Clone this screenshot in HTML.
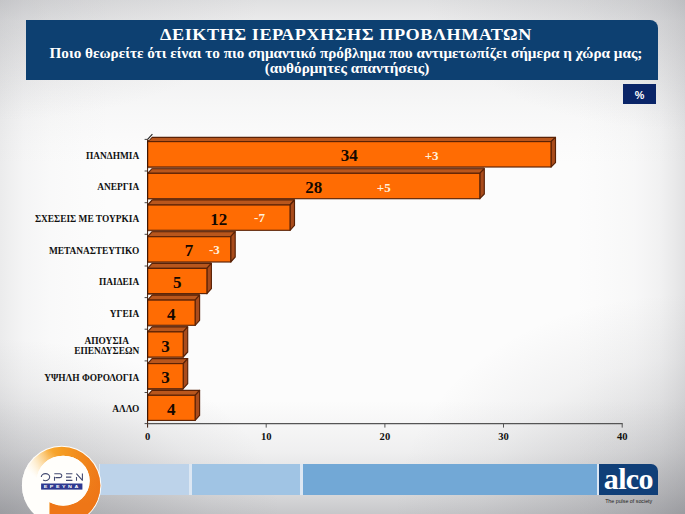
<!DOCTYPE html>
<html lang="el">
<head>
<meta charset="utf-8">
<title>ΔΕΙΚΤΗΣ ΙΕΡΑΡΧΗΣΗΣ ΠΡΟΒΛΗΜΑΤΩΝ</title>
<style>
html,body{margin:0;padding:0;}
body{width:685px;height:514px;overflow:hidden;position:relative;font-family:"Liberation Serif",serif;font-weight:bold;
 background:
  radial-gradient(ellipse 260px 120px at 0% 0%, rgba(150,151,156,0.24) 0%, rgba(150,151,156,0.11) 50%, rgba(150,151,156,0) 100%),
  radial-gradient(ellipse 260px 130px at 100% 0%, rgba(150,151,156,0.28) 0%, rgba(150,151,156,0.13) 50%, rgba(150,151,156,0) 100%),
  radial-gradient(ellipse 280px 175px at 0% 100%, rgba(118,119,125,0.46) 0%, rgba(118,119,125,0.25) 38%, rgba(118,119,125,0.07) 75%, rgba(118,119,125,0) 100%),
  radial-gradient(ellipse 290px 220px at 100% 100%, rgba(112,113,119,0.40) 0%, rgba(112,113,119,0.22) 35%, rgba(112,113,119,0.07) 70%, rgba(112,113,119,0) 100%),
  linear-gradient(to bottom, rgba(125,126,132,0) 0%, rgba(125,126,132,0) 78%, rgba(125,126,132,0.10) 88%, rgba(125,126,132,0.28) 96%, rgba(125,126,132,0.42) 100%),
  linear-gradient(to bottom, rgba(150,151,156,0.28) 0%, rgba(150,151,156,0.17) 4%, rgba(150,151,156,0.085) 16%, rgba(150,151,156,0.045) 22%, rgba(150,151,156,0.015) 27%, rgba(150,151,156,0) 32%),
  linear-gradient(to right, rgba(150,151,156,0.17) 0%, rgba(150,151,156,0.125) 1.5%, rgba(150,151,156,0.07) 3.6%, rgba(150,151,156,0.03) 7.3%, rgba(150,151,156,0.01) 11.7%, rgba(150,151,156,0) 16%, rgba(150,151,156,0) 84%, rgba(150,151,156,0.015) 88%, rgba(150,151,156,0.045) 92.7%, rgba(150,151,156,0.11) 96.4%, rgba(150,151,156,0.19) 98.5%, rgba(150,151,156,0.26) 100%),
  #fcfcfc;}
.abs{position:absolute;}
#hdr{left:26px;top:19.5px;width:632px;height:60px;background:#0d4071;border-top-right-radius:8px;color:#fff;text-align:center;}
#t1{left:0;width:640px;top:6.3px;font-size:17.2px;line-height:17px;white-space:nowrap;letter-spacing:0.48px;transform:scaleX(1.06);transform-origin:320px 0;}
#t2{left:0;width:640px;top:25px;font-size:15.2px;line-height:15px;white-space:nowrap;}
#t3{left:0;width:642px;top:40.2px;font-size:15.2px;line-height:15px;white-space:nowrap;}
#pct{left:623.1px;top:84.1px;width:32.8px;height:19.8px;background:#0a2568;color:#fff;font-family:"Liberation Sans",sans-serif;font-size:10.8px;line-height:22.4px;text-align:center;}
.cat{right:545.8px;font-size:9.4px;line-height:10.6px;color:#111;text-align:center;white-space:nowrap;}
.val{font-size:17px;line-height:18px;color:#140800;text-align:center;width:40px;margin-left:-20px;}
.chg{font-size:13px;line-height:14px;color:#fff1dd;text-align:center;width:30px;margin-left:-15px;}
.ax{font-size:10.6px;line-height:12px;color:#111;text-align:center;width:30px;margin-left:-15px;top:431px;}
#bandbg{left:99px;top:464px;width:499.7px;height:31.3px;background:#dce7f3;}
#band1{left:100px;top:464px;width:89.3px;height:31.3px;background:#bdd3ea;}
#band2{left:192.3px;top:464px;width:108px;height:31.3px;background:#a0c4e4;}
#band3{left:303px;top:464px;width:293.5px;height:31.3px;background:#72a8d6;}
#alco{left:599px;top:464px;width:59px;height:31px;background:#103f78;border-top-right-radius:7px;color:#fff;}
#alcot{left:-0.2px;top:-0.9px;width:59px;text-align:center;font-size:30px;line-height:31px;letter-spacing:-0.65px;}
#pulse{left:599.7px;top:498.1px;width:58px;text-align:center;font-family:"Liberation Sans",sans-serif;font-weight:normal;font-size:5.3px;line-height:7px;color:#222;white-space:nowrap;}
</style>
</head>
<body>
<div id="hdr" class="abs">
 <div id="t1" class="abs">ΔΕΙΚΤΗΣ ΙΕΡΑΡΧΗΣΗΣ ΠΡΟΒΛΗΜΑΤΩΝ</div>
 <div id="t2" class="abs">Ποιο θεωρείτε ότι είναι το πιο σημαντικό πρόβλημα που αντιμετωπίζει σήμερα η χώρα μας;</div>
 <div id="t3" class="abs">(αυθόρμητες απαντήσεις)</div>
</div>
<div id="pct" class="abs">%</div>

<svg class="abs" style="left:0;top:0" width="685" height="514" viewBox="0 0 685 514">
<polygon points="147.6,136.9 152.6,136.9 147.6,141.6" fill="#fff"/>
<polygon points="147.6,141.6 152.1,137.3 555.5,137.3 551.0,141.6" fill="#b9561c" stroke="#5a2206" stroke-width="1.15" stroke-linejoin="round"/>
<polygon points="551.0,141.6 555.5,137.3 555.5,162.7 551.0,167.0" fill="#a94c1c" stroke="#5a2206" stroke-width="1.15" stroke-linejoin="round"/>
<rect x="147.6" y="141.6" width="403.4" height="25.4" fill="#ff6c03" stroke="#5a2206" stroke-width="1.15"/>
<line x1="147.6" y1="167.9" x2="484.3" y2="167.9" stroke="#7d3a14" stroke-width="1.3"/>
<line x1="144.6" y1="139.4" x2="147.6" y2="139.4" stroke="#333" stroke-width="0.9"/>
<polygon points="147.6,168.3 152.6,168.3 147.6,173.3" fill="#fff"/>
<polygon points="147.6,173.3 152.1,168.7 484.3,168.7 479.8,173.3" fill="#b9561c" stroke="#5a2206" stroke-width="1.15" stroke-linejoin="round"/>
<polygon points="479.8,173.3 484.3,168.7 484.3,194.0 479.8,198.7" fill="#a94c1c" stroke="#5a2206" stroke-width="1.15" stroke-linejoin="round"/>
<rect x="147.6" y="173.3" width="332.2" height="25.4" fill="#ff6c03" stroke="#5a2206" stroke-width="1.15"/>
<line x1="147.6" y1="199.6" x2="294.5" y2="199.6" stroke="#7d3a14" stroke-width="1.3"/>
<line x1="144.6" y1="171.0" x2="147.6" y2="171.0" stroke="#333" stroke-width="0.9"/>
<polygon points="147.6,199.6 152.6,199.6 147.6,205.0" fill="#fff"/>
<polygon points="147.6,205.0 152.1,200.0 294.5,200.0 290.0,205.0" fill="#b9561c" stroke="#5a2206" stroke-width="1.15" stroke-linejoin="round"/>
<polygon points="290.0,205.0 294.5,200.0 294.5,225.3 290.0,230.3" fill="#a94c1c" stroke="#5a2206" stroke-width="1.15" stroke-linejoin="round"/>
<rect x="147.6" y="205.0" width="142.4" height="25.3" fill="#ff6c03" stroke="#5a2206" stroke-width="1.15"/>
<line x1="147.6" y1="231.2" x2="235.2" y2="231.2" stroke="#7d3a14" stroke-width="1.3"/>
<line x1="144.6" y1="202.7" x2="147.6" y2="202.7" stroke="#333" stroke-width="0.9"/>
<polygon points="147.6,231.3 152.6,231.3 147.6,236.7" fill="#fff"/>
<polygon points="147.6,236.7 152.1,231.7 235.2,231.7 230.7,236.7" fill="#b9561c" stroke="#5a2206" stroke-width="1.15" stroke-linejoin="round"/>
<polygon points="230.7,236.7 235.2,231.7 235.2,257.0 230.7,262.0" fill="#a94c1c" stroke="#5a2206" stroke-width="1.15" stroke-linejoin="round"/>
<rect x="147.6" y="236.7" width="83.1" height="25.3" fill="#ff6c03" stroke="#5a2206" stroke-width="1.15"/>
<line x1="147.6" y1="262.9" x2="211.4" y2="262.9" stroke="#7d3a14" stroke-width="1.3"/>
<line x1="144.6" y1="234.3" x2="147.6" y2="234.3" stroke="#333" stroke-width="0.9"/>
<polygon points="147.6,263.0 152.6,263.0 147.6,268.4" fill="#fff"/>
<polygon points="147.6,268.4 152.1,263.4 211.4,263.4 206.9,268.4" fill="#b9561c" stroke="#5a2206" stroke-width="1.15" stroke-linejoin="round"/>
<polygon points="206.9,268.4 211.4,263.4 211.4,288.7 206.9,293.7" fill="#a94c1c" stroke="#5a2206" stroke-width="1.15" stroke-linejoin="round"/>
<rect x="147.6" y="268.4" width="59.3" height="25.2" fill="#ff6c03" stroke="#5a2206" stroke-width="1.15"/>
<line x1="147.6" y1="294.6" x2="199.6" y2="294.6" stroke="#7d3a14" stroke-width="1.3"/>
<line x1="144.6" y1="266.0" x2="147.6" y2="266.0" stroke="#333" stroke-width="0.9"/>
<polygon points="147.6,294.8 152.6,294.8 147.6,300.1" fill="#fff"/>
<polygon points="147.6,300.1 152.1,295.1 199.6,295.1 195.1,300.1" fill="#b9561c" stroke="#5a2206" stroke-width="1.15" stroke-linejoin="round"/>
<polygon points="195.1,300.1 199.6,295.1 199.6,320.3 195.1,325.3" fill="#a94c1c" stroke="#5a2206" stroke-width="1.15" stroke-linejoin="round"/>
<rect x="147.6" y="300.1" width="47.5" height="25.2" fill="#ff6c03" stroke="#5a2206" stroke-width="1.15"/>
<line x1="147.6" y1="326.2" x2="187.7" y2="326.2" stroke="#7d3a14" stroke-width="1.3"/>
<line x1="144.6" y1="297.6" x2="147.6" y2="297.6" stroke="#333" stroke-width="0.9"/>
<polygon points="147.6,326.5 152.6,326.5 147.6,331.9" fill="#fff"/>
<polygon points="147.6,331.9 152.1,326.9 187.7,326.9 183.2,331.9" fill="#b9561c" stroke="#5a2206" stroke-width="1.15" stroke-linejoin="round"/>
<polygon points="183.2,331.9 187.7,326.9 187.7,352.0 183.2,357.0" fill="#a94c1c" stroke="#5a2206" stroke-width="1.15" stroke-linejoin="round"/>
<rect x="147.6" y="331.9" width="35.6" height="25.2" fill="#ff6c03" stroke="#5a2206" stroke-width="1.15"/>
<line x1="147.6" y1="357.9" x2="183.2" y2="357.9" stroke="#7d3a14" stroke-width="1.3"/>
<line x1="144.6" y1="329.2" x2="147.6" y2="329.2" stroke="#333" stroke-width="0.9"/>
<polygon points="147.6,358.2 152.6,358.2 147.6,363.6" fill="#fff"/>
<polygon points="147.6,363.6 152.1,358.6 187.7,358.6 183.2,363.6" fill="#b9561c" stroke="#5a2206" stroke-width="1.15" stroke-linejoin="round"/>
<polygon points="183.2,363.6 187.7,358.6 187.7,383.7 183.2,388.7" fill="#a94c1c" stroke="#5a2206" stroke-width="1.15" stroke-linejoin="round"/>
<rect x="147.6" y="363.6" width="35.6" height="25.1" fill="#ff6c03" stroke="#5a2206" stroke-width="1.15"/>
<line x1="147.6" y1="389.6" x2="183.2" y2="389.6" stroke="#7d3a14" stroke-width="1.3"/>
<line x1="144.6" y1="360.9" x2="147.6" y2="360.9" stroke="#333" stroke-width="0.9"/>
<polygon points="147.6,389.9 152.6,389.9 147.6,395.3" fill="#fff"/>
<polygon points="147.6,395.3 152.1,390.3 199.6,390.3 195.1,395.3" fill="#b9561c" stroke="#5a2206" stroke-width="1.15" stroke-linejoin="round"/>
<polygon points="195.1,395.3 199.6,390.3 199.6,415.4 195.1,420.4" fill="#a94c1c" stroke="#5a2206" stroke-width="1.15" stroke-linejoin="round"/>
<rect x="147.6" y="395.3" width="47.5" height="25.1" fill="#ff6c03" stroke="#5a2206" stroke-width="1.15"/>
<line x1="144.6" y1="392.5" x2="147.6" y2="392.5" stroke="#333" stroke-width="0.9"/>
<line x1="148.5" y1="140.0" x2="153.0" y2="134.8" stroke="#fff" stroke-width="1"/>
<line x1="147.6" y1="139.4" x2="152.4" y2="134.1" stroke="#222" stroke-width="1.1"/>
<line x1="144.6" y1="423.6" x2="147.6" y2="423.6" stroke="#333" stroke-width="0.9"/>
<line x1="147.6" y1="139.4" x2="147.6" y2="427.6" stroke="#3a1604" stroke-width="1"/>
<line x1="147.6" y1="423.6" x2="622.7" y2="423.6" stroke="#555" stroke-width="1.4"/>
<line x1="266.2" y1="423.6" x2="266.2" y2="427.6" stroke="#555" stroke-width="1"/>
<line x1="384.9" y1="423.6" x2="384.9" y2="427.6" stroke="#555" stroke-width="1"/>
<line x1="503.5" y1="423.6" x2="503.5" y2="427.6" stroke="#555" stroke-width="1"/>
<line x1="622.2" y1="423.6" x2="622.2" y2="427.6" stroke="#555" stroke-width="1"/>
</svg>

<div class="abs cat" style="top:150.5px">ΠΑΝΔΗΜΙΑ</div>
<div class="abs val" style="left:349.3px;top:147.3px">34</div>
<div class="abs chg" style="left:431.6px;top:149.3px">+3</div>
<div class="abs cat" style="top:182.2px">ΑΝΕΡΓΙΑ</div>
<div class="abs val" style="left:313.7px;top:179.0px">28</div>
<div class="abs chg" style="left:383.7px;top:181.0px">+5</div>
<div class="abs cat" style="top:213.9px">ΣΧΕΣΕΙΣ ΜΕ ΤΟΥΡΚΙΑ</div>
<div class="abs val" style="left:218.8px;top:210.7px">12</div>
<div class="abs chg" style="left:259.5px;top:211.2px">-7</div>
<div class="abs cat" style="top:245.6px">ΜΕΤΑΝΑΣΤΕΥΤΙΚΟ</div>
<div class="abs val" style="left:189.1px;top:242.4px">7</div>
<div class="abs chg" style="left:214.4px;top:243.1px">-3</div>
<div class="abs cat" style="top:277.3px">ΠΑΙΔΕΙΑ</div>
<div class="abs val" style="left:177.3px;top:274.1px">5</div>
<div class="abs cat" style="top:309.1px">ΥΓΕΙΑ</div>
<div class="abs val" style="left:171.3px;top:305.9px">4</div>
<div class="abs cat" style="top:335.5px">ΑΠΟΥΣΙΑ<br>ΕΠΕΝΔΥΣΕΩΝ</div>
<div class="abs val" style="left:165.4px;top:337.6px">3</div>
<div class="abs cat" style="top:372.5px">ΥΨΗΛΗ ΦΟΡΟΛΟΓΙΑ</div>
<div class="abs val" style="left:165.4px;top:369.3px">3</div>
<div class="abs cat" style="top:404.2px">ΑΛΛΟ</div>
<div class="abs val" style="left:171.3px;top:401.0px">4</div>
<div class="abs ax" style="left:147.6px">0</div>
<div class="abs ax" style="left:266.2px">10</div>
<div class="abs ax" style="left:384.9px">20</div>
<div class="abs ax" style="left:503.5px">30</div>
<div class="abs ax" style="left:622.2px">40</div>

<div id="bandbg" class="abs"></div><div id="band1" class="abs"></div><div id="band2" class="abs"></div><div id="band3" class="abs"></div>
<svg class="abs" style="left:0;top:430px" width="130" height="84" viewBox="0 430 130 84">
 <defs>
  <linearGradient id="rg" gradientUnits="userSpaceOnUse" x1="22" y1="0" x2="101" y2="0">
   <stop offset="0" stop-color="#fff4dd"/><stop offset="0.12" stop-color="#fde0a8"/><stop offset="0.22" stop-color="#fac469"/><stop offset="0.33" stop-color="#f8ab36"/><stop offset="0.5" stop-color="#f59c22"/><stop offset="0.8" stop-color="#f0851c"/><stop offset="1" stop-color="#ee7718"/>
  </linearGradient>
  <linearGradient id="rg2" gradientUnits="userSpaceOnUse" x1="0" y1="468" x2="0" y2="503">
   <stop offset="0" stop-color="#ee7617" stop-opacity="0"/><stop offset="1" stop-color="#ee7617" stop-opacity="1"/>
  </linearGradient>
  <linearGradient id="fade" gradientUnits="userSpaceOnUse" x1="50" y1="449" x2="30" y2="473">
   <stop offset="0" stop-color="#fffefb" stop-opacity="0"/><stop offset="0.5" stop-color="#fffefb" stop-opacity="0.5"/><stop offset="1" stop-color="#fffefb" stop-opacity="1"/>
  </linearGradient>
  <clipPath id="cA"><path d="M0 430 H130 V514 H0 Z"/></clipPath>
  <clipPath id="cB"><path d="M49.5 468 H130 V514 H49.5 Z"/></clipPath>
  <clipPath id="cL"><path d="M0 430 H130 V514 H49.5 V492 H0 Z"/></clipPath>
  <clipPath id="cD"><circle cx="61.65" cy="485.5" r="39.7"/></clipPath>
 </defs>
 <circle cx="61.65" cy="485.5" r="39.7" fill="#fffefb"/>
 <g clip-path="url(#cL)">
  <path clip-path="url(#cA)" fill-rule="evenodd" fill="url(#rg)" d="M 22.95 485.5 a 38.7 38.7 0 1 0 77.4 0 a 38.7 38.7 0 1 0 -77.4 0 Z M 36.7 480.7 a 26.5 25 0 1 0 53 0 a 26.5 25 0 1 0 -53 0 Z"/>
  <path clip-path="url(#cB)" fill-rule="evenodd" fill="url(#rg2)" d="M 22.95 485.5 a 38.7 38.7 0 1 0 77.4 0 a 38.7 38.7 0 1 0 -77.4 0 Z M 36.7 480.7 a 26.5 25 0 1 0 53 0 a 26.5 25 0 1 0 -53 0 Z"/>
 </g>
 <path clip-path="url(#cD)" d="M 0 440 H 62 L 49.4 500 H 0 Z" fill="url(#fade)"/>
 <ellipse cx="63.2" cy="480.7" rx="26.5" ry="25" fill="#fffefb"/>
 <path d="M 49.5 504 V 514 H 90 V 505.7 Z" fill="none"/>
 <g fill="none" stroke="#434a70" stroke-width="1.08">
  <path d="M 41.3 477.1 A 4.2 3.5 0 0 1 49.7 477.1 A 4.2 3.5 0 0 1 43.1 480"/>
  <path d="M 54.3 473.8 H 59.9 A 1.9 1.9 0 0 1 59.9 477.6 H 55.4 M 54.5 476.8 V 480.7"/>
  <path d="M 66 473.8 H 72.4 M 66 477.1 H 71.3 M 66 480.4 H 72.4"/>
  <path d="M 76.5 477 V 480.7 M 76.4 473.6 L 82.4 480.3 M 82.4 473.4 V 480.7"/>
 </g>
 <rect x="41.1" y="483.5" width="41.3" height="6.1" fill="#2f3990"/>
 <text transform="translate(62.3 488.2) scale(1.3 1)" font-family="Liberation Sans, sans-serif" font-weight="bold" font-size="4.1" fill="#fff" text-anchor="middle" letter-spacing="1.95">ΕΡΕΥΝΑ</text>
</svg>

<div id="alco" class="abs"><div id="alcot" class="abs">alco</div></div>
<div id="pulse" class="abs">The pulse of society</div>
</body>
</html>
